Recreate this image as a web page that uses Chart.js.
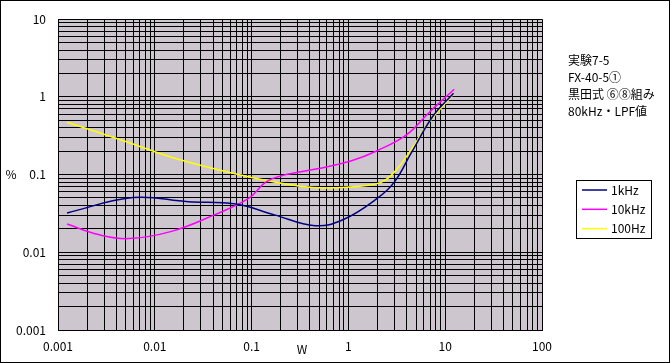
<!DOCTYPE html>
<html>
<head>
<meta charset="utf-8">
<script src="https://cdn.jsdelivr.net/npm/chart.js@4"></script>
<style>
body { margin: 0; background: #fff; }
#wrap { width: 672px; height: 363px; }
</style>
</head>
<body>
<div id="wrap"><canvas id="myChart" width="672" height="363"></canvas></div>
<script>
// power (W) and distortion (%)
const power1k = [0.00124, 0.00594, 0.0223, 0.0686, 0.172, 0.452, 0.877, 1.98, 2.98, 4.49, 7.46, 12.2];
const dist1k = [0.0321, 0.0507, 0.0448, 0.0418, 0.0303, 0.022, 0.0262, 0.0493, 0.080, 0.193, 0.564, 1.116];

const power10k = [0.00124, 0.00262, 0.00536, 0.0149, 0.0412, 0.093, 0.140, 0.211, 0.476, 1.077, 1.98, 4.05, 6.74, 12.4];
const dist10k = [0.0231, 0.0169, 0.0150, 0.0186, 0.0303, 0.0493, 0.080, 0.0977, 0.1186, 0.151, 0.203, 0.330, 0.622, 1.254];

const power100 = [0.00124, 0.00536, 0.0149, 0.0412, 0.114, 0.316, 0.583, 1.318, 2.20, 2.98, 4.49, 6.74, 12.2];
const dist100 = [0.473, 0.259, 0.167, 0.1186, 0.0885, 0.0708, 0.0674, 0.0708, 0.080, 0.1076, 0.213, 0.464, 1.093];

const seriesNames = ["1kHz", "10kHz", "100Hz"];
const seriesColors = ["#000080", "#ff00ff", "#ffff00"];

const xDecades = [0.001, 0.01, 0.1, 1, 10, 100];
const yDecades = [0.001, 0.01, 0.1, 1, 10];
const xTickLabels = ["0.001", "0.01", "0.1", "1", "10", "100"];
const yTickLabels = ["0.001", "0.01", "0.1", "1", "10"];

const notes = ["実験7-5", "FX-40-5①", "黒田式 ⑥⑧組み", "80kHz・LPF値"];

function toPoints(xs, ys) {
    return xs.map((x, i) => ({ x: x, y: ys[i] }));
}

function logTicks(decades) {
    let ticks = [];
    for (let i = 0; i < decades.length - 1; i++) {
        for (let m = 1; m < 10; m++) {
            ticks.push({ value: decades[i] * m });
        }
    }
    ticks.push({ value: decades[decades.length - 1] });
    return ticks;
}

function decadeLabel(value, decades, labels) {
    for (let i = 0; i < decades.length; i++) {
        if (Math.abs(value - decades[i]) / decades[i] < 1e-6) return labels[i];
    }
    return "";
}

const decorPlugin = {
    id: "decor",
    beforeDraw(chart) {
        const ctx = chart.ctx;
        const a = chart.chartArea;
        ctx.save();
        ctx.fillStyle = "#ffffff";
        ctx.fillRect(0, 0, chart.width, chart.height);
        // the old plot area is a pink/green dither, which averages to this greyish lilac
        ctx.fillStyle = "#cec6ce";
        ctx.fillRect(a.left, a.top, a.right - a.left, a.bottom - a.top);
        ctx.restore();
    },
    afterDraw(chart) {
        const ctx = chart.ctx;
        ctx.save();
        ctx.strokeStyle = "#000";
        ctx.lineWidth = 1;
        ctx.strokeRect(0.5, 0.5, 669, 362);

        ctx.fillStyle = "#000";
        ctx.font = "12px 'Noto Sans CJK JP', sans-serif";
        ctx.textBaseline = "middle";
        ctx.textAlign = "center";
        ctx.fillText("%", 11, 174);
        ctx.fillText("W", 302, 349);

        ctx.textAlign = "left";
        notes.forEach((t, i) => {
            ctx.fillText(t, 568, 60 + i * 17);
        });

        // legend
        ctx.strokeRect(576.5, 180.5, 75, 58);
        seriesNames.forEach((name, i) => {
            const y = 190 + i * 19.3;
            ctx.strokeStyle = seriesColors[i];
            ctx.lineWidth = 1.5;
            ctx.beginPath();
            ctx.moveTo(582, y);
            ctx.lineTo(607, y);
            ctx.stroke();
            ctx.fillText(name, 611, y);
        });
        ctx.restore();
    }
};

const chart = document.getElementById("myChart");

new Chart(chart, {
    type: "line",
    data: {
        datasets: [
            { label: seriesNames[0], data: toPoints(power1k, dist1k), borderColor: seriesColors[0] },
            { label: seriesNames[1], data: toPoints(power10k, dist10k), borderColor: seriesColors[1] },
            { label: seriesNames[2], data: toPoints(power100, dist100), borderColor: seriesColors[2] },
        ]
    },
    options: {
        responsive: false,
        animation: false,
        devicePixelRatio: 1,
        layout: { padding: { top: 15, right: 130, left: 0, bottom: 0 } },
        elements: {
            line: { borderWidth: 1.5, tension: 0.4, fill: false },
            point: { radius: 0 },
        },
        font: { family: "'Noto Sans CJK JP', sans-serif", size: 12 },
        scales: {
            x: {
                type: "logarithmic",
                min: xDecades[0],
                max: xDecades[xDecades.length - 1],
                afterBuildTicks: (scale) => { scale.ticks = logTicks(xDecades); },
                afterFit: (scale) => { scale.height = 33; },
                grid: { color: "#000", lineWidth: 1, drawTicks: false },
                border: { color: "#000" },
                ticks: {
                    autoSkip: false,
                    maxRotation: 0,
                    padding: 9,
                    color: "#000",
                    font: { family: "'Noto Sans CJK JP', sans-serif", size: 12 },
                    callback: (v) => decadeLabel(v, xDecades, xTickLabels),
                },
            },
            y: {
                type: "logarithmic",
                min: yDecades[0],
                max: yDecades[yDecades.length - 1],
                afterBuildTicks: (scale) => { scale.ticks = logTicks(yDecades); },
                afterFit: (scale) => { scale.width = 58; },
                grid: { color: "#000", lineWidth: 1, drawTicks: false },
                border: { color: "#000" },
                ticks: {
                    autoSkip: false,
                    padding: 12,
                    color: "#000",
                    font: { family: "'Noto Sans CJK JP', sans-serif", size: 12 },
                    callback: (v) => decadeLabel(v, yDecades, yTickLabels),
                },
            },
        },
        plugins: {
            legend: { display: false },
            tooltip: { enabled: false },
        },
    },
    plugins: [decorPlugin],
});
</script>
</body>
</html>
